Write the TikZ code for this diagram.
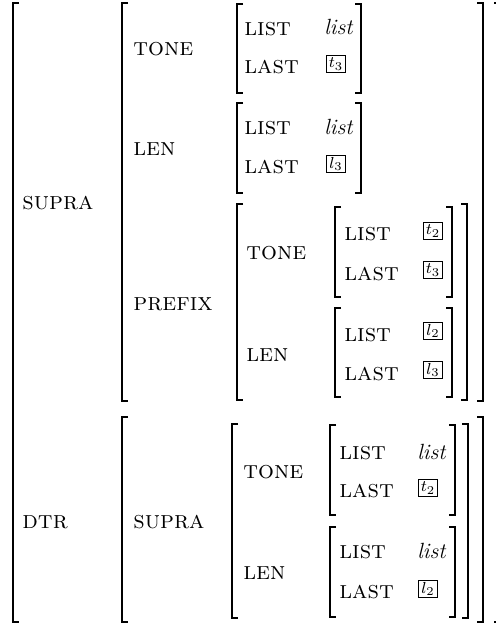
\documentclass[tikz,border=0pt]{standalone}
\usepackage{xcolor}
\usepackage{tikz}

\newcommand{\avmbrackets}[4]{%
  \draw[brak] (#1+6,#2) -- (#1,#2) -- (#1,#4) -- (#1+6,#4);
  \draw[brak] (#3-6,#2) -- (#3,#2) -- (#3,#4) -- (#3-6,#4);}

\begin{document}
\fontsize{11}{13}\selectfont
\begin{tikzpicture}[x=0.5pt,y=-0.5pt]
	\tikzstyle{feat} = [anchor=base west, inner sep=0pt, font=\fontsize{12.5}{14}\selectfont\scshape]
	\tikzstyle{val} = [anchor=base west, inner sep=0pt, font=\itshape]
	\tikzstyle{tag} = [draw, line width=0.5pt, inner sep=0pt, minimum width=9.5pt, minimum height=8.5pt, font=\footnotesize]
	\tikzset{brak/.style = {line width=0.7pt, line join=miter}}
	\useasboundingbox (0,0) rectangle (496,625);

	% whole structure
	\avmbrackets{13}{3}{500}{622}
	\node[feat](supra) at (22,210) {supra};
	\node[feat](dtr) at (22,528) {dtr};

	% supra
	\avmbrackets{122}{3}{483}{401}
	\node[feat](tone) at (133,56) {tone};
	\node[feat](len) at (133,156) {len};
	\node[feat](prefix) at (133,310) {prefix};

	\avmbrackets{237}{4}{361}{93}
	\node[feat](toneList) at (244,36) {list};
	\node[val](toneListVal) at (324,35) {list};
	\node[feat](toneLast) at (244,74) {last};
	\node[tag](toneLastVal) at (336,64) {$t_3$};

	\avmbrackets{237}{103}{361}{193}
	\node[feat](lenList) at (244,135) {list};
	\node[val](lenListVal) at (324,135) {list};
	\node[feat](lenLast) at (244,174) {last};
	\node[tag](lenLastVal) at (336,164) {$l_3$};

	% prefix
	\avmbrackets{237}{204}{467}{400}
	\node[feat](preTone) at (246,260) {tone};
	\node[feat](preLen) at (246,361) {len};

	\avmbrackets{335}{207}{452}{297}
	\node[feat](preToneList) at (344,241) {list};
	\node[tag](preToneListVal) at (433,231) {$t_2$};
	\node[feat](preToneLast) at (344,280) {last};
	\node[tag](preToneLastVal) at (433,270) {$t_3$};

	\avmbrackets{335}{308}{452}{397}
	\node[feat](preLenList) at (344,341) {list};
	\node[tag](preLenListVal) at (433,331) {$l_2$};
	\node[feat](preLenLast) at (344,380) {last};
	\node[tag](preLenLastVal) at (433,370) {$l_3$};

	% dtr
	\avmbrackets{122}{417}{483}{622}
	\node[feat](dtrSupra) at (133,528) {supra};

	\avmbrackets{232}{424}{468}{618}
	\node[feat](dtrTone) at (243,478) {tone};
	\node[feat](dtrLen) at (243,579) {len};

	\avmbrackets{330}{425}{455}{515}
	\node[feat](dtrToneList) at (339,459) {list};
	\node[val](dtrToneListVal) at (417,459) {list};
	\node[feat](dtrToneLast) at (339,497) {last};
	\node[tag](dtrToneLastVal) at (428,488) {$t_2$};

	\avmbrackets{330}{527}{455}{617}
	\node[feat](dtrLenList) at (339,558) {list};
	\node[val](dtrLenListVal) at (417,558) {list};
	\node[feat](dtrLenLast) at (339,598) {last};
	\node[tag](dtrLenLastVal) at (428,589) {$l_2$};
\end{tikzpicture}
\end{document}
